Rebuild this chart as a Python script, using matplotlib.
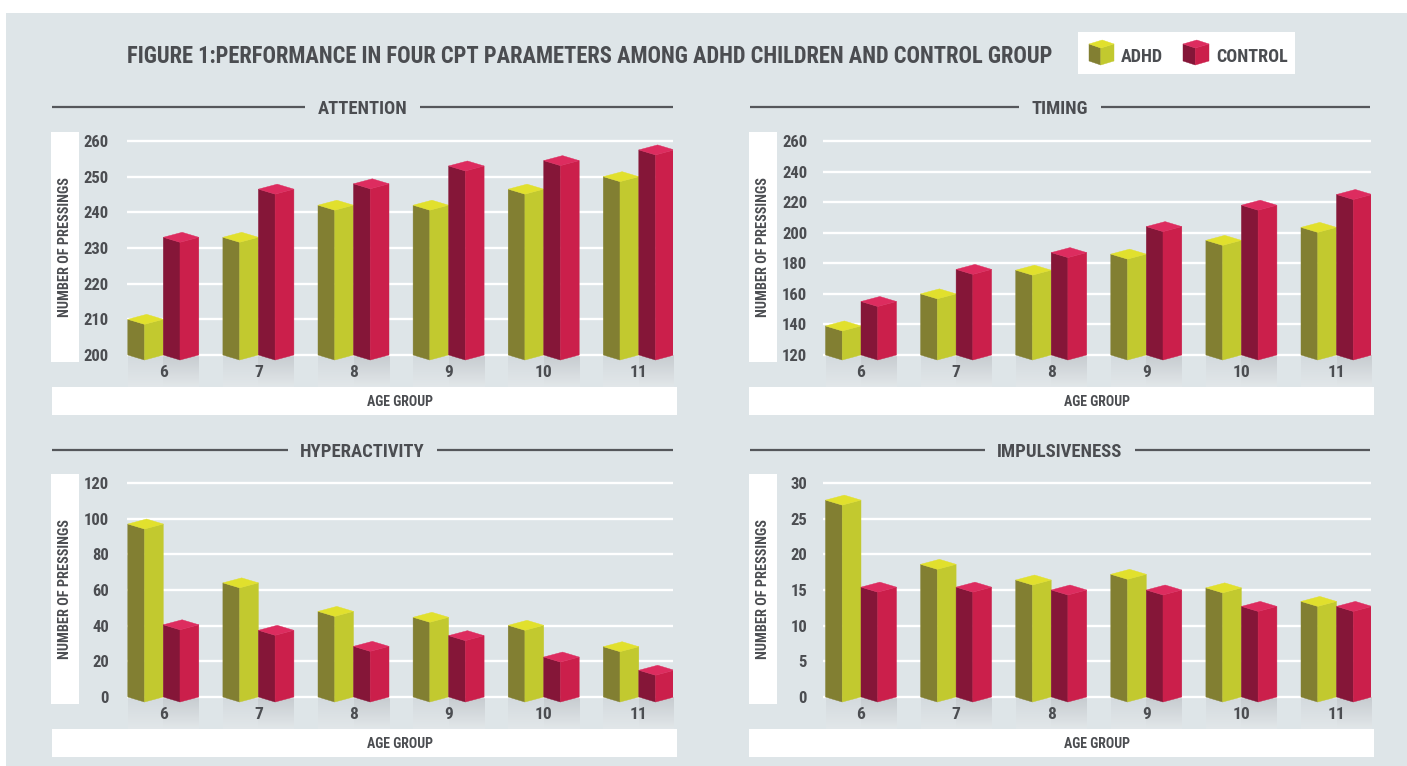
import numpy as np
import matplotlib
matplotlib.use('Agg')
import matplotlib.pyplot as plt
from matplotlib.patches import Polygon, Rectangle
from matplotlib import font_manager as fm

# ---------------- data ----------------
ages = ['6', '7', '8', '9', '10', '11']
series_names = ['ADHD', 'CONTROL']
attention_adhd = [210, 233, 242, 242, 246.5, 250]
attention_control = [233, 246.5, 248, 253, 254.5, 257.5]
timing_adhd = [139, 160, 175.5, 186, 195, 203.5]
timing_control = [155, 176, 187, 204, 218, 225]
hyper_adhd = [97, 64, 48, 44.7, 40.2, 28.2]
hyper_control = [40.5, 37.4, 28.4, 34.4, 22.4, 15]
impuls_adhd = [27.6, 18.6, 16.4, 17.2, 15.3, 13.4]
impuls_control = [15.4, 15.4, 15.0, 15.0, 12.7, 12.7]
panel_titles = ['ATTENTION', 'TIMING', 'HYPERACTIVITY', 'IMPULSIVENESS']
y_ranges = [(200, 260, 10), (120, 260, 20), (0, 120, 20), (0, 30, 5)]
title = 'FIGURE 1:PERFORMANCE IN FOUR CPT PARAMETERS AMONG ADHD CHILDREN AND CONTROL GROUP'
ylabel = 'NUMBER OF PRESSINGS'
xlabel = 'AGE GROUP'

panel_data = [(attention_adhd, attention_control), (timing_adhd, timing_control),
              (hyper_adhd, hyper_control), (impuls_adhd, impuls_control)]

# ---------------- style ----------------
def pick_font():
    for name in ['Liberation Sans Narrow', 'DejaVu Sans Condensed', 'Roboto Condensed', 'Liberation Sans']:
        try:
            fm.findfont(fm.FontProperties(family=name), fallback_to_default=False)
            return name
        except Exception:
            pass
    return 'DejaVu Sans'

FONT = pick_font()
plt.rcParams['font.family'] = [FONT, 'DejaVu Sans']
plt.rcParams['font.weight'] = 'bold'

BG = '#dee5e8'
TXT = '#4b4d51'
LINE = '#55575b'
ADHD_COLS = ('#827f32', '#c2c92f', '#e1e02d')
CTRL_COLS = ('#851638', '#cb1f4b', '#dd2c5f')

W, H = 1407, 766
fig = plt.figure(figsize=(W / 100, H / 100), dpi=100, facecolor='white')
ov = fig.add_axes([0, 0, 1, 1], zorder=0)
ov.set_xlim(0, W)
ov.set_ylim(H, 0)
ov.axis('off')
ov.add_patch(Rectangle((6, 13), W - 6, H - 13, fc=BG, ec='none'))

renderer = fig.canvas.get_renderer()


def fit(t, target_w):
    bb = t.get_window_extent(renderer)
    t.set_fontsize(t.get_fontsize() * target_w / bb.width)
    return t.get_fontsize()


def cube(ax, xl, xr, base, top, cols, dy, z=3):
    xf = xl + 0.47 * (xr - xl)
    xb = xl + xr - xf
    left = [(xl, base), (xf, base - dy), (xf, top - dy), (xl, top)]
    right = [(xf, base - dy), (xr, base), (xr, top), (xf, top - dy)]
    topf = [(xl, top), (xf, top - dy), (xr, top), (xb, top + dy)]
    for pts, c in zip((left, right, topf), cols):
        ax.add_patch(Polygon(pts, closed=True, fc=c, ec=c, lw=0.3, zorder=z))


# ---------------- title & legend ----------------
t = ov.text(127, 63, title, ha='left', va='baseline', color=TXT, fontsize=16)
fit(t, 930)

ov.add_patch(Rectangle((1078, 32), 217, 42, fc='white', ec='none'))
cube(ov, 1089, 1114, 61, 44, ADHD_COLS, -4)
cube(ov, 1183, 1209, 61, 44, CTRL_COLS, -4)
lt = ov.text(1121, 62, series_names[0], ha='left', va='baseline', color=TXT, fontsize=13)
lsz = fit(lt, 42)
ov.text(1216, 62, series_names[1], ha='left', va='baseline', color=TXT, fontsize=lsz)

# ---------------- panels ----------------
layouts = [
    dict(x0=127, x1=673, c0=163.3, ytop=141, ybase=355, band=(52, 677, 387, 415), ybox=(51, 79, 132, 362), hy=107, hx=(52, 673), ypad=13),
    dict(x0=823, x1=1371, c0=861, ytop=141, ybase=355, band=(749, 1374, 387, 415), ybox=(749, 777, 132, 362), hy=107, hx=(750, 1370), ypad=11.5),
    dict(x0=127, x1=673, c0=163.3, ytop=483, ybase=697, band=(52, 677, 729, 757), ybox=(51, 79, 474, 704), hy=450, hx=(52, 673), ypad=13),
    dict(x0=823, x1=1371, c0=861, ytop=483, ybase=697, band=(749, 1374, 729, 757), ybox=(749, 777, 474, 704), hy=450, hx=(750, 1370), ypad=11.5),
]

tmp = ov.text(0, -100, panel_titles[0], fontsize=14)
head_size = fit(tmp, 90)
tmp.remove()
tmp = ov.text(0, -100, ylabel, fontsize=10)
ylab_size = fit(tmp, 139)
tmp.remove()
tmp = ov.text(0, -100, xlabel, fontsize=10)
xlab_size = fit(tmp, 66)
tmp.remove()

u = 95.1  # px per category
w = 35.5 / u
top_shadow = np.array([[0.83, 0.855, 0.87], [0.78, 0.80, 0.815]])
bot_shadow = np.array([0.885, 0.905, 0.915])

for k, (lay, (adhd, ctrl), (ymin, ymax, step), ptitle) in enumerate(zip(layouts, panel_data, y_ranges, panel_titles)):
    x0, x1, ytop, ybase = lay['x0'], lay['x1'], lay['ytop'], lay['ybase']
    bt = lay['band'][2]
    upp = (ymax - ymin) / (ybase - ytop)
    ax_top_px = ytop - 4
    ax = fig.add_axes([x0 / W, 1 - bt / H, (x1 - x0) / W, (bt - ax_top_px) / H], zorder=2)
    ax.patch.set_visible(False)
    for s in ax.spines.values():
        s.set_visible(False)
    y_lo = ymin - (bt - ybase) * upp
    y_hi = ymax + 4 * upp

    # shadows under each bar pair (drawn below the axis layer)
    n = 40
    for i in range(len(ages)):
        for half, (xa, xb_) in enumerate(((i - w, i), (i, i + w))):
            f = np.linspace(0, 1, n)[:, None]
            grad = top_shadow[half][None, :] * (1 - f) + bot_shadow[None, :] * f
            ax.imshow(grad[:, None, :], extent=(xa, xb_, y_lo, ymin), origin='upper',
                      aspect='auto', interpolation='bilinear', zorder=0.2)

    dy = 5 * upp
    for i in range(len(ages)):
        cube(ax, i - w, i, ymin, adhd[i], ADHD_COLS, dy)
        cube(ax, i, i + w, ymin, ctrl[i], CTRL_COLS, dy)

    xmin = -(lay['c0'] - x0) / u
    ax.set_xlim(xmin, xmin + (x1 - x0) / u)
    ax.set_ylim(y_lo, y_hi)
    ax.set_yticks(np.arange(ymin, ymax + step / 2, step))
    ax.set_xticks(range(len(ages)))
    ax.set_xticklabels(ages)
    ax.tick_params(axis='y', length=0, labelsize=12, labelcolor=TXT, pad=lay['ypad'])
    ax.tick_params(axis='x', length=0, labelsize=12.5, labelcolor=TXT, pad=-15.8)
    ax.grid(axis='y', color='white', lw=1.7)
    ax.grid(axis='x', visible=False)
    ax.set_axisbelow(True)

    # y label box
    bx0, bx1, by0, by1 = lay['ybox']
    ov.add_patch(Rectangle((bx0, by0), bx1 - bx0, by1 - by0, fc='white', ec='none'))
    ov.text((bx0 + bx1) / 2, (by0 + by1) / 2, ylabel, rotation=90, ha='center', va='center',
            color=TXT, fontsize=ylab_size)
    # x label band
    a0, a1, b0, b1 = lay['band']
    ov.add_patch(Rectangle((a0, b0), a1 - a0, b1 - b0, fc='white', ec='none'))
    ov.text((x0 + x1) / 2, (b0 + b1) / 2 + xlab_size * 100 / 72 * 0.36, xlabel, ha='center', va='baseline',
            color=TXT, fontsize=xlab_size)
    # heading
    h0, h1 = lay['hx']
    ov.plot([h0, h1], [lay['hy'], lay['hy']], color=LINE, lw=1.6, solid_capstyle='butt')
    ov.text((h0 + h1) / 2, lay['hy'] + head_size * 100 / 72 * 0.36, ptitle, ha='center', va='baseline',
            color=TXT, fontsize=head_size,
            bbox=dict(fc=BG, ec='none', pad=9))

fig.savefig('out.png', dpi=100, facecolor='white')
